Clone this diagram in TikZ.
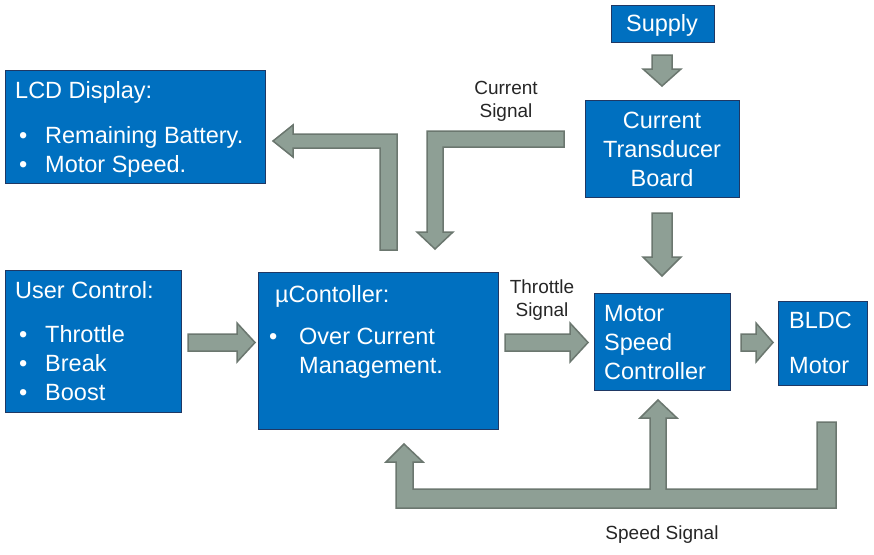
\documentclass[tikz,border=0pt]{standalone}
\usepackage{fontspec}
\setmainfont{Liberation Sans}
\definecolor{boxblue}{HTML}{0070C0}
\definecolor{boxedge}{HTML}{1F3864}
\definecolor{arrfill}{HTML}{8E9F95}
\definecolor{arredge}{HTML}{6B776F}
\definecolor{lblcol}{HTML}{262626}
\begin{document}
\begin{tikzpicture}[x=1pt,y=-1pt,
  bbox/.style={draw=boxedge, fill=boxblue, line width=0.9pt, anchor=north west, inner sep=0pt},
  bt/.style={text=white, font=\fontsize{23.5}{28}\selectfont, inner sep=0pt, anchor=base west},
  ct/.style={text=white, font=\fontsize{23.5}{28}\selectfont, inner sep=0pt, anchor=base},
  lbl/.style={text=lblcol, font=\fontsize{19}{22}\selectfont, inner sep=0pt, anchor=base},
  barrow/.style={fill=arrfill, draw=arredge, line width=1.5pt, line join=miter}]
\path[fill=white, use as bounding box] (0,0) rectangle (874,554);

% boxes
\node[bbox, minimum width=103pt, minimum height=37pt] (supply) at (611,5) {};
\node[bbox, minimum width=154pt, minimum height=97pt] (ctb) at (585,100) {};
\node[bbox, minimum width=260pt, minimum height=113pt] (lcd) at (5,70) {};
\node[bbox, minimum width=176pt, minimum height=142pt] (uc) at (5,270) {};
\node[bbox, minimum width=240pt, minimum height=157pt] (mc) at (258,272) {};
\node[bbox, minimum width=136pt, minimum height=97pt] (msc) at (594,293) {};
\node[bbox, minimum width=89pt, minimum height=84pt] (bldc) at (778,301) {};

% texts
\node[ct] (tsup) at (662,31.5) {Supply};
\node[ct] (tctb1) at (662,128.5) {Current};
\node[ct] (tctb2) at (662,157.5) {Transducer};
\node[ct] (tctb3) at (662,186.5) {Board};

\node[bt] (tlcd) at (15,98.5) {LCD Display:};
\node[bt] (tlcdb1) at (19,143.5) {•};
\node[bt] (tlcd1) at (45,143.5) {Remaining Battery.};
\node[bt] (tlcdb2) at (19,172.5) {•};
\node[bt] (tlcd2) at (45,172.5) {Motor Speed.};

\node[bt] (tuc) at (15,298.5) {User Control:};
\node[bt] (tucb1) at (19,342.5) {•};
\node[bt] (tuc1) at (45,342.5) {Throttle};
\node[bt] (tucb2) at (19,371.5) {•};
\node[bt] (tuc2) at (45,371.5) {Break};
\node[bt] (tucb3) at (19,400.5) {•};
\node[bt] (tuc3) at (45,400.5) {Boost};

\node[bt] (tmc) at (275,302.5) {µContoller:};
\node[bt] (tmcb) at (269,344.5) {•};
\node[bt] (tmc1) at (299,344.5) {Over Current};
\node[bt] (tmc2) at (299,373.5) {Management.};

\node[bt] (tmsc1) at (604,321.5) {Motor};
\node[bt] (tmsc2) at (604,350.5) {Speed};
\node[bt] (tmsc3) at (604,379.5) {Controller};

\node[bt] (tbl1) at (789,328.5) {BLDC};
\node[bt] (tbl2) at (789,373.5) {Motor};

\node[lbl] (lcs1) at (506,94.5) {Current};
\node[lbl] (lcs2) at (506,117.5) {Signal};
\node[lbl] (lts1) at (542,293.5) {Throttle};
\node[lbl] (lts2) at (542,316.5) {Signal};
\node[lbl] (lss) at (662,539.5) {Speed Signal};

% block arrows
\draw[barrow] (652,55) -- (672,55) -- (672,69) -- (681,69) -- (662,86) -- (643,69) -- (652,69) -- cycle;
\draw[barrow] (652,213) -- (672,213) -- (672,257) -- (681,257) -- (662,276) -- (643,257) -- (652,257) -- cycle;
\draw[barrow] (188,334) -- (237,334) -- (237,323) -- (255,342.5) -- (237,362) -- (237,351) -- (188,351) -- cycle;
\draw[barrow] (505,334) -- (570,334) -- (570,323) -- (588,342.5) -- (570,362) -- (570,351) -- (505,351) -- cycle;
\draw[barrow] (741,334) -- (756,334) -- (756,323) -- (773,342.5) -- (756,362) -- (756,351) -- (741,351) -- cycle;
\draw[barrow] (397,250) -- (397,134) -- (293,134) -- (293,125) -- (273,141) -- (293,157) -- (293,148) -- (380,148) -- (380,250) -- cycle;
\draw[barrow] (564,131) -- (564,147) -- (443,147) -- (443,232) -- (453,232) -- (435,249) -- (417,232) -- (427,232) -- (427,131) -- cycle;
\draw[barrow] (836,422) -- (836,508) -- (396,508) -- (396,462) -- (386,462) -- (404,444) -- (423,462) -- (413,462) -- (413,489) -- (650,489) -- (650,418) -- (640,418) -- (658,400) -- (677,418) -- (666,418) -- (666,489) -- (817,489) -- (817,422) -- cycle;
\end{tikzpicture}
\end{document}
